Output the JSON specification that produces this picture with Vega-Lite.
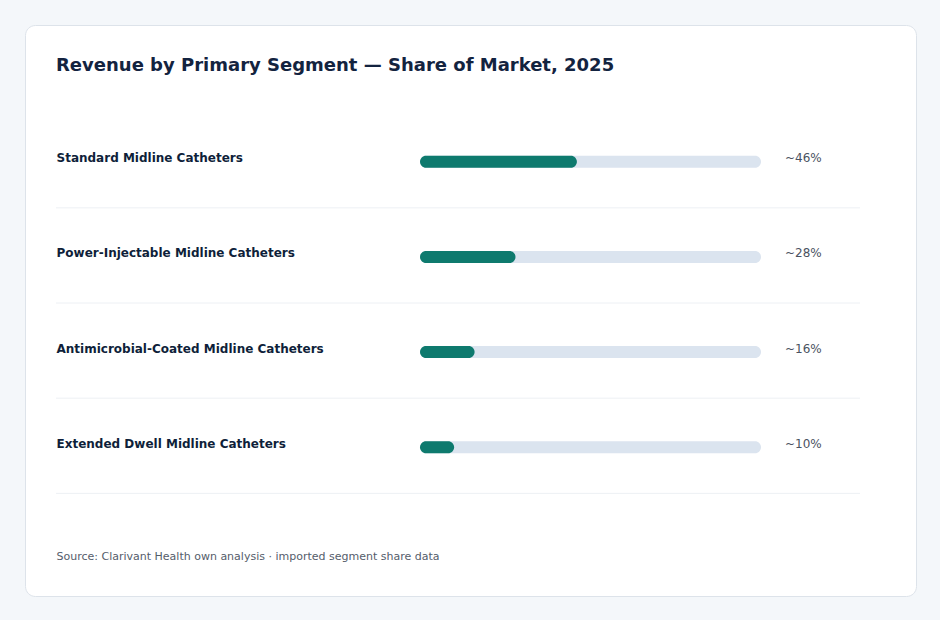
{
  "$schema": "https://vega.github.io/schema/vega-lite/v6.json",
  "width": 940,
  "height": 620,
  "autosize": {"type": "fit", "contains": "padding"},
  "padding": {"left": 25, "top": 25, "right": 24, "bottom": 24},
  "background": "#f4f7fa",
  "config": {
    "font": "DejaVu Sans",
    "view": {"fill": "#ffffff", "stroke": "#dde3ea", "strokeWidth": 1, "cornerRadius": 10}
  },
  "title": {
    "text": "Revenue by Primary Segment — Share of Market, 2025",
    "anchor": "start",
    "frame": "group",
    "orient": "top",
    "offset": 0,
    "dx": 31,
    "dy": 64,
    "baseline": "alphabetic",
    "fontSize": 18,
    "fontWeight": "bold",
    "color": "#13233f"
  },
  "data": {
    "values": [
      {"segment": "Standard Midline Catheters", "share": 46},
      {"segment": "Power-Injectable Midline Catheters", "share": 28},
      {"segment": "Antimicrobial-Coated Midline Catheters", "share": 16},
      {"segment": "Extended Dwell Midline Catheters", "share": 10}
    ]
  },
  "transform": [
    {"calculate": "'~' + datum.share + '%'", "as": "shareLabel"}
  ],
  "encoding": {
    "y": {
      "field": "segment",
      "type": "nominal",
      "sort": null,
      "scale": {"paddingInner": 0, "paddingOuter": 1.00526, "align": 0.4607},
      "axis": {
        "title": null,
        "domain": false,
        "ticks": false,
        "grid": false,
        "labelAlign": "left",
        "labelPadding": -31,
        "labelLimit": 400,
        "labelBaseline": "alphabetic",
        "labelOffset": 2,
        "labelFontSize": 12,
        "labelFontWeight": "bold",
        "labelColor": "#0f1f3a"
      }
    }
  },
  "layer": [
    {
      "mark": {"type": "rule", "color": "#edf0f4", "strokeWidth": 1},
      "encoding": {
        "y": {"field": "segment", "type": "nominal", "sort": null, "bandPosition": 1},
        "x": {
          "datum": -106.74,
          "type": "quantitative",
          "scale": {"domain": [-115.84, 145.45], "nice": false, "zero": false},
          "axis": {
            "title": "Source: Clarivant Health own analysis · imported segment share data",
            "domain": false,
            "ticks": false,
            "labels": false,
            "grid": false,
            "titleAnchor": "start",
            "titleAlign": "left",
            "titleBaseline": "alphabetic",
            "titleX": 31,
            "titleY": -37,
            "titleFontSize": 11,
            "titleFontWeight": "normal",
            "titleColor": "#555d6b"
          }
        },
        "x2": {"datum": 129.03}
      }
    },
    {
      "mark": {"type": "bar", "height": 12, "cornerRadius": 6, "color": "#dbe4ef", "yOffset": 1.5},
      "encoding": {
        "x": {"datum": 100, "type": "quantitative"},
        "x2": {"datum": 0}
      }
    },
    {
      "mark": {"type": "bar", "height": 12, "cornerRadius": 6, "color": "#0e7a6e", "yOffset": 1.5},
      "encoding": {
        "x": {"field": "share", "type": "quantitative"},
        "x2": {"datum": 0}
      }
    },
    {
      "mark": {"type": "text", "align": "left", "baseline": "alphabetic", "dx": 24, "dy": 2, "fontSize": 12, "color": "#4a5261"},
      "encoding": {
        "x": {"datum": 100, "type": "quantitative"},
        "text": {"field": "shareLabel", "type": "nominal"}
      }
    }
  ]
}
